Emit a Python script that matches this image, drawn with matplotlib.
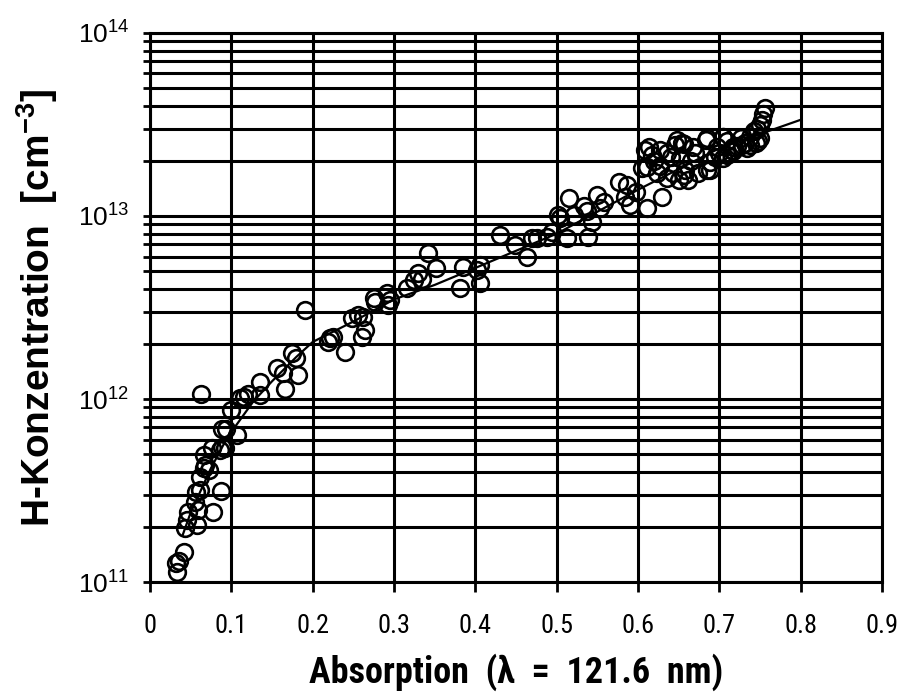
import math
import matplotlib
matplotlib.use("Agg")
import matplotlib.pyplot as plt
from matplotlib.ticker import LogLocator, FixedLocator, FuncFormatter, NullFormatter

# Messpunkte (Absorption, H-Konzentration in cm^-3)
absorption = [
    0.033, 0.032, 0.036, 0.042, 0.043, 0.045, 0.047, 0.058, 0.059, 0.077,
    0.055, 0.057, 0.062, 0.087, 0.062, 0.066, 0.068, 0.072, 0.066, 0.076,
    0.086, 0.092, 0.063, 0.088, 0.088, 0.094, 0.107, 0.100, 0.111, 0.115,
    0.121, 0.135, 0.135, 0.156, 0.164, 0.166, 0.182, 0.174, 0.180, 0.191,
    0.221, 0.225, 0.219, 0.240, 0.248, 0.256, 0.262, 0.260, 0.264, 0.275,
    0.277, 0.291, 0.295, 0.293, 0.316, 0.324, 0.330, 0.334, 0.342, 0.351,
    0.385, 0.381, 0.406, 0.402, 0.406, 0.430, 0.449, 0.463, 0.469, 0.476,
    0.488, 0.494, 0.504, 0.502, 0.513, 0.515, 0.521, 0.537, 0.539, 0.549,
    0.543, 0.533, 0.558, 0.553, 0.576, 0.586, 0.584, 0.597, 0.590, 0.611,
    0.611, 0.613, 0.605, 0.617, 0.627, 0.629, 0.636, 0.623, 0.648, 0.654,
    0.652, 0.658, 0.662, 0.650, 0.668, 0.674, 0.683, 0.689, 0.697, 0.705,
    0.709, 0.717, 0.756, 0.754, 0.752, 0.750, 0.746, 0.742, 0.609, 0.656,
    0.685, 0.705, 0.709, 0.726, 0.738, 0.750, 0.627, 0.643, 0.656, 0.685,
    0.689, 0.705, 0.717, 0.734, 0.722, 0.728, 0.732, 0.738, 0.745, 0.748,
    0.715, 0.700, 0.695, 0.670, 0.665, 0.640, 0.635, 0.620, 0.645,
]
konzentration = [
    1.14e11, 1.27e11, 1.31e11, 1.46e11, 1.97e11, 2.18e11, 2.42e11, 2.05e11, 2.47e11, 2.42e11,
    2.75e11, 3.11e11, 3.18e11, 3.15e11, 3.76e11, 4.18e11, 4.36e11, 4.09e11, 4.94e11, 5.38e11,
    5.26e11, 5.38e11, 1.07e12, 5.50e11, 6.90e11, 6.90e11, 6.35e11, 8.70e11, 1.01e12, 1.03e12,
    1.07e12, 1.24e12, 1.05e12, 1.47e12, 1.38e12, 1.14e12, 1.35e12, 1.78e12, 1.67e12, 3.06e12,
    2.15e12, 2.19e12, 2.06e12, 1.81e12, 2.76e12, 2.88e12, 2.82e12, 2.19e12, 2.38e12, 3.55e12,
    3.40e12, 3.79e12, 3.48e12, 3.25e12, 4.03e12, 4.47e12, 4.86e12, 4.50e12, 6.25e12, 5.18e12,
    5.28e12, 4.03e12, 5.40e12, 5.07e12, 4.29e12, 7.87e12, 6.95e12, 6.00e12, 7.55e12, 7.55e12,
    7.70e12, 8.20e12, 9.70e12, 1.01e13, 7.55e12, 1.25e13, 1.01e13, 1.06e13, 7.70e12, 1.30e13,
    9.30e12, 1.13e13, 1.19e13, 1.10e13, 1.54e13, 1.48e13, 1.27e13, 1.35e13, 1.15e13, 1.10e13,
    1.86e13, 2.39e13, 1.82e13, 2.15e13, 2.30e13, 1.27e13, 1.61e13, 1.72e13, 2.60e13, 2.50e13,
    2.07e13, 1.78e13, 1.58e13, 1.58e13, 2.39e13, 1.72e13, 2.60e13, 1.78e13, 2.39e13, 2.71e13,
    2.15e13, 2.39e13, 3.90e13, 3.60e13, 3.35e13, 3.12e13, 3.00e13, 2.90e13, 2.30e13, 2.47e13,
    2.65e13, 2.70e13, 2.55e13, 2.65e13, 2.70e13, 2.65e13, 1.88e13, 1.72e13, 1.68e13, 1.78e13,
    1.98e13, 2.07e13, 2.25e13, 2.35e13, 2.40e13, 2.45e13, 2.50e13, 2.45e13, 2.50e13, 2.55e13,
    2.30e13, 2.20e13, 2.10e13, 2.20e13, 2.00e13, 2.10e13, 2.20e13, 2.00e13, 2.45e13,
]

# Ausgleichskurve
kurve_x = [0.04, 0.05, 0.06, 0.075, 0.09, 0.105, 0.127, 0.15, 0.18, 0.2,
           0.25, 0.3, 0.35, 0.4, 0.5, 0.6, 0.7, 0.8]
kurve_y = [1.8e11, 2.4e11, 3.0e11, 4.2e11, 5.6e11, 7.1e11, 9.7e11, 1.25e12, 1.7e12, 2.05e12,
           2.65e12, 3.5e12, 4.2e12, 5.2e12, 8.0e12, 1.39e13, 2.34e13, 3.35e13]

x_ticks = [0, 0.1, 0.2, 0.3, 0.4, 0.5, 0.6, 0.7, 0.8, 0.9]
x_ticklabels = ["0", "0.1", "0.2", "0.3", "0.4", "0.5", "0.6", "0.7", "0.8", "0.9"]

plt.rcParams["font.family"] = ["Liberation Sans", "DejaVu Sans"]
plt.rcParams["mathtext.fontset"] = "custom"
plt.rcParams["mathtext.rm"] = "Liberation Sans"
plt.rcParams["mathtext.bf"] = "Liberation Sans:bold"
plt.rcParams["mathtext.default"] = "regular"

fig = plt.figure(figsize=(9.06, 6.98), dpi=100)
ax = fig.add_axes([0.1656, 0.166, 0.808, 0.787])

ax.plot(absorption, konzentration, "o", mfc="none", mec="black", ms=12, mew=1.9)
ax.plot(kurve_x, kurve_y, "-", color="black", lw=1.6)

ax.set_yscale("log")
ax.set_xlim(0, 0.9)
ax.set_ylim(1e11, 1e14)

ax.xaxis.set_major_locator(FixedLocator(x_ticks))
ax.set_xticklabels(x_ticklabels)
ax.yaxis.set_major_locator(LogLocator(base=10))
ax.yaxis.set_minor_locator(LogLocator(base=10, subs=range(2, 10)))
ax.yaxis.set_minor_formatter(NullFormatter())
ax.yaxis.set_major_formatter(FuncFormatter(lambda v, p: "10$^{%d}$" % round(math.log10(v))))

ax.grid(True, which="major", color="black", lw=2.2)
ax.grid(True, which="minor", axis="y", color="black", lw=2.2)
ax.set_axisbelow(True)

ax.tick_params(axis="x", which="major", direction="out", length=7, width=2, pad=16,
               labelsize=19, labelfontfamily="Roboto Condensed")
ax.tick_params(axis="y", which="both", direction="out", length=5, width=2, pad=10,
               labelsize=19, labelfontfamily="Liberation Sans")
for s in ax.spines.values():
    s.set_linewidth(2.2)

ax.set_xlabel("Absorption  (\u03bb  =  121.6  nm)", family=["Roboto Condensed", "DejaVu Sans"],
              fontsize=26, fontweight="semibold", labelpad=11)
ax.set_ylabel(r"H-Konzentration  [cm$\mathbf{^{-3}}$]", family="Liberation Sans",
              fontsize=28, fontweight="bold", labelpad=13)

fig.savefig("out.png", dpi=100)
